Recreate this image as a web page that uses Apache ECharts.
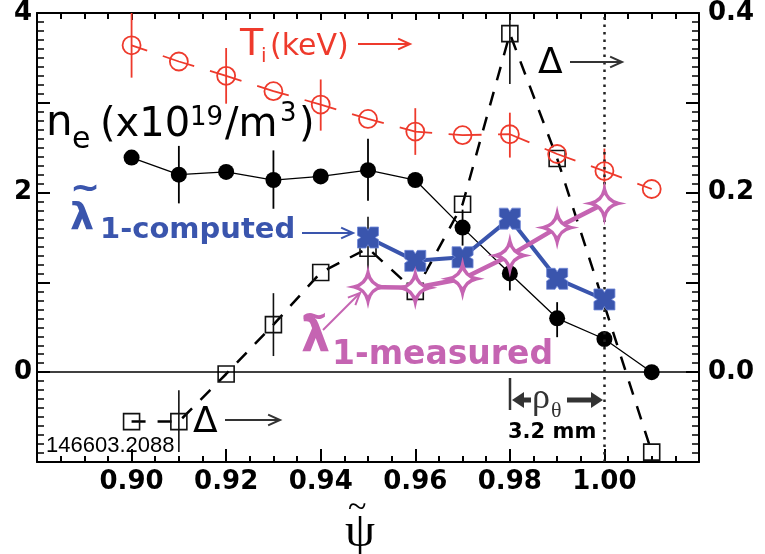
<!DOCTYPE html>
<html>
<head>
<meta charset="utf-8">
<script src="https://cdn.jsdelivr.net/npm/echarts@6/dist/echarts.min.js"></script>
<style>
  html, body { margin: 0; padding: 0; background: #fff; }
  #chart { width: 765px; height: 554px; }
</style>
</head>
<body>
<div id="chart"></div>
<script>
// psi values (x) and the profiles
var psi = [0.90, 0.91, 0.92, 0.93, 0.94, 0.95, 0.96, 0.97, 0.98, 0.99, 1.00, 1.01];
var tiVals = [3.64, 3.46, 3.30, 3.13, 2.98, 2.82, 2.68, 2.64, 2.65, 2.43, 2.24, 2.04];
var neVals = [2.39, 2.20, 2.23, 2.14, 2.18, 2.25, 2.14, 1.61, 1.10, 0.60, 0.37, 0.00];
var lamPsi = [0.95, 0.96, 0.97, 0.98, 0.99, 1.00];
var lamComputed = [1.50, 1.24, 1.28, 1.71, 1.04, 0.81];
var lamMeasured = [0.95, 0.94, 1.04, 1.30, 1.61, 1.88];
// delta is on the right axis
var deltaPsi = [0.90, 0.91, 0.92, 0.93, 0.94, 0.95, 0.96, 0.97, 0.98, 0.99, 1.01];
var deltaVals = [-0.055, -0.055, -0.002, 0.053, 0.111, 0.138, 0.090, 0.187, 0.377, 0.238, -0.089];
// error bars: [psi, low, high]
var tiErr = [[0.90, 3.28, 4.0], [0.92, 2.99, 3.61], [0.94, 2.69, 3.26], [0.96, 2.42, 2.94], [0.98, 2.39, 2.89], [1.00, 1.97, 2.49]];
var neErr = [[0.91, 1.88, 2.52], [0.93, 1.82, 2.47], [0.95, 1.91, 2.60], [0.97, 1.41, 1.81], [0.98, 0.91, 1.27], [0.99, 0.39, 0.78]];
var deltaErr = [[0.91, -0.089, -0.020], [0.93, 0.018, 0.088], [0.95, 0.102, 0.173], [0.98, 0.321, 0.40]];
var leftTicks = [0, 2, 4];
var rightTicks = [0.0, 0.2, 0.4];

var RED = '#ee3a2c', BLUE = '#3a55ad', MAG = '#c564b2', DARK = '#333';
var FONT = 'DejaVu Sans';

var myChart = echarts.init(document.getElementById('chart'), null, { renderer: 'canvas' });

function pairs(xs, ys) {
  return xs.map(function (x, i) { return [x, ys[i]]; });
}

function errSeries(data, color, yIdx, width) {
  return {
    type: 'custom',
    yAxisIndex: yIdx,
    data: data,
    encode: { x: 0, y: [1, 2] },
    z: 3,
    renderItem: function (params, api) {
      var a = api.coord([api.value(0), api.value(1)]);
      var b = api.coord([api.value(0), api.value(2)]);
      return {
        type: 'line',
        shape: { x1: a[0], y1: a[1], x2: b[0], y2: b[1] },
        style: { stroke: color, lineWidth: width }
      };
    }
  };
}

function txt(x, y, s, size, color, weight, family) {
  return {
    type: 'text', x: x, y: y, z: 100,
    style: {
      text: s, fontSize: size, fontFamily: family || FONT, fontWeight: weight || 'normal',
      fill: color || '#000', textAlign: 'left', textVerticalAlign: 'middle',
      align: 'left', verticalAlign: 'middle'
    }
  };
}

function arrow(x1, y1, x2, y2, color, w, h) {
  var a = Math.atan2(y2 - y1, x2 - x1), sp = 0.42;
  return [
    { type: 'line', z: 100, shape: { x1: x1, y1: y1, x2: x2, y2: y2 }, style: { stroke: color, lineWidth: w } },
    { type: 'polyline', z: 100, shape: { points: [
      [x2 - h * Math.cos(a - sp), y2 - h * Math.sin(a - sp)], [x2, y2],
      [x2 - h * Math.cos(a + sp), y2 - h * Math.sin(a + sp)]] },
      style: { stroke: color, lineWidth: w, fill: null } }
  ];
}

function solidArrow(x1, y, x2, color) {
  var dir = x2 > x1 ? 1 : -1;
  return [
    { type: 'line', z: 100, shape: { x1: x1, y1: y, x2: x2 - dir * 8, y2: y }, style: { stroke: color, lineWidth: 5 } },
    { type: 'polygon', z: 100, shape: { points: [[x2, y], [x2 - dir * 12, y - 8], [x2 - dir * 12, y + 8]] }, style: { fill: color } }
  ];
}

var graphics = [];
// T_i (keV) ->
graphics.push(txt(240, 45, 'T', 38, RED));
graphics.push(txt(261, 57, 'i', 20, RED));
graphics.push(txt(270, 47, '(keV)', 30, RED));
graphics = graphics.concat(arrow(358, 44, 410, 44, RED, 2, 13));
// n_e (x10^19/m^3)
graphics.push(txt(46, 124, 'n', 42, '#000'));
graphics.push(txt(72, 140, 'e', 30, '#000'));
graphics.push(txt(100, 126, '(x10', 40, '#000'));
graphics.push(txt(190, 118, '19', 26, '#000'));
graphics.push(txt(225, 126, '/m', 40, '#000'));
graphics.push(txt(280, 114, '3', 26, '#000'));
graphics.push(txt(299, 126, ')', 40, '#000'));
// lambda 1-computed
graphics.push(txt(70, 190, '~', 36, BLUE, 'bold'));
graphics.push(txt(70, 219, '\u03bb', 38, BLUE, 'bold'));
graphics.push(txt(100, 230, '1-computed', 29, BLUE, 'bold'));
graphics = graphics.concat(arrow(302, 233, 353, 233, BLUE, 2, 13));
// lambda 1-measured
graphics.push(txt(300, 318, '~', 34, MAG, 'bold'));
graphics.push(txt(301, 339, '\u03bb', 46, MAG, 'bold'));
graphics.push(txt(332, 355, '1-measured', 33, MAG, 'bold'));
graphics = graphics.concat(arrow(323, 330, 360, 293, MAG, 2, 13));
// Delta arrows
graphics.push(txt(538, 64, '\u0394', 36, '#000'));
graphics = graphics.concat(arrow(570, 62, 622, 62, DARK, 2, 13));
graphics.push(txt(193, 423, '\u0394', 36, '#000'));
graphics = graphics.concat(arrow(225, 420, 280, 420, DARK, 2, 13));
// shot number
graphics.push(txt(46, 446, '146603.2088', 22, '#000', 'normal', 'Liberation Sans'));
// rho_theta
graphics.push({ type: 'line', z: 100, shape: { x1: 510, y1: 378, x2: 510, y2: 410 }, style: { stroke: DARK, lineWidth: 2.5 } });
graphics = graphics.concat(solidArrow(531, 400, 512, DARK));
graphics = graphics.concat(solidArrow(567, 400, 603, DARK));
graphics.push(txt(532, 399, '\u03c1', 36, DARK, 'normal', 'Liberation Serif'));
graphics.push(txt(551, 411, '\u03b8', 22, DARK, 'normal', 'Liberation Serif'));
graphics.push(txt(508, 433, '3.2 mm', 21, '#000', 'bold'));
// x axis title psi with tilde
graphics.push(txt(348, 508, '~', 34, '#000', 'normal', 'Liberation Serif'));
graphics.push(txt(345, 533, '\u03c8', 48, '#000', 'normal', 'Liberation Serif'));

var tickLabelStyle = { fontSize: 26, fontWeight: 'bold', fontFamily: FONT, color: '#000' };

var option = {
  animation: false,
  backgroundColor: '#fff',
  grid: { left: 37, right: 66, top: 13, bottom: 92 },
  xAxis: [{
    type: 'value', min: 0.88, max: 1.02, interval: 0.02, position: 'bottom',
    axisLine: { onZero: false, lineStyle: { color: '#000', width: 2 } },
    axisTick: { inside: true, length: 13, lineStyle: { color: '#000', width: 2 } },
    minorTick: { show: true, splitNumber: 4, length: 6, lineStyle: { color: '#000', width: 2 } },
    splitLine: { show: false },
    axisLabel: Object.assign({ margin: 7, formatter: function (v) {
      return (v > 0.895 && v < 1.005) ? v.toFixed(2) : '';
    } }, tickLabelStyle)
  }, {
    type: 'value', min: 0.88, max: 1.02, interval: 0.02, position: 'top',
    axisLine: { onZero: false, lineStyle: { color: '#000', width: 2 } },
    axisTick: { inside: true, length: 7, lineStyle: { color: '#000', width: 2 } },
    minorTick: { show: true, splitNumber: 4, length: 6, lineStyle: { color: '#000', width: 2 } },
    splitLine: { show: false },
    axisLabel: { show: false }
  }],
  yAxis: [{
    type: 'value', min: -1, max: 4, interval: 1, position: 'left',
    axisLine: { show: true, onZero: false, lineStyle: { color: '#000', width: 2 } },
    axisTick: { show: true, inside: true, length: 13, lineStyle: { color: '#000', width: 2 } },
    minorTick: { show: true, splitNumber: 10, length: 7, lineStyle: { color: '#000', width: 1.5 } },
    splitLine: { show: false },
    axisLabel: Object.assign({ margin: 5, formatter: function (v) {
      return leftTicks.indexOf(v) >= 0 ? String(v) : '';
    } }, tickLabelStyle)
  }, {
    type: 'value', min: -0.1, max: 0.4, interval: 0.1, position: 'right',
    axisLine: { show: true, onZero: false, lineStyle: { color: '#000', width: 2 } },
    axisTick: { show: true, inside: true, length: 13, lineStyle: { color: '#000', width: 2 } },
    minorTick: { show: true, splitNumber: 10, length: 7, lineStyle: { color: '#000', width: 1.5 } },
    splitLine: { show: false },
    axisLabel: Object.assign({ margin: 9, formatter: function (v) {
      var r = Math.round(v * 10) / 10;
      return rightTicks.indexOf(r) >= 0 ? r.toFixed(1) : '';
    } }, tickLabelStyle)
  }],
  series: [
    {
      name: 'Delta', type: 'line', yAxisIndex: 1, data: pairs(deltaPsi, deltaVals), z: 2,
      symbol: 'rect', symbolSize: 16,
      itemStyle: { color: 'rgba(0,0,0,0)', borderColor: '#111', borderWidth: 1.6 },
      lineStyle: { color: '#000', width: 2.5, type: [14, 12] }
    },
    errSeries(deltaErr, '#111', 1, 1.6),
    {
      name: 'ne', type: 'line', data: pairs(psi, neVals), z: 4,
      symbol: 'circle', symbolSize: 16,
      itemStyle: { color: '#000' },
      lineStyle: { color: '#000', width: 1.3 },
      markLine: {
        silent: true, symbol: 'none', label: { show: false },
        data: [
          { yAxis: 0, lineStyle: { color: '#000', width: 1.5, type: 'solid' } },
          { xAxis: 1.0, lineStyle: { color: '#222', width: 2.5, type: [2.5, 5] } }
        ]
      }
    },
    errSeries(neErr, '#000', 0, 1.8),
    {
      name: 'Ti', type: 'line', data: pairs(psi, tiVals), z: 5,
      symbol: 'circle', symbolSize: 18,
      itemStyle: { color: 'rgba(0,0,0,0)', borderColor: RED, borderWidth: 1.8 },
      lineStyle: { color: RED, width: 1.8, type: [33, 16.5], dashOffset: 16.5 }
    },
    errSeries(tiErr, RED, 0, 1.8),
    {
      name: 'lambda computed', type: 'line', data: pairs(lamPsi, lamComputed), z: 6,
      symbol: 'path://M0,0 L4,0 L5,1.6 L6,0 L10,0 L10,4 L8.4,5 L10,6 L10,10 L6,10 L5,8.4 L4,10 L0,10 L0,6 L1.6,5 L0,4 Z',
      symbolSize: 21,
      itemStyle: { color: BLUE, borderColor: '#7088d8', borderWidth: 0.8 },
      lineStyle: { color: BLUE, width: 4 }
    },
    {
      name: 'lambda measured', type: 'line', data: pairs(lamPsi, lamMeasured), z: 7,
      symbol: 'path://M5,0 Q5.9,4.1 10,5 Q5.9,5.9 5,10 Q4.1,5.9 0,5 Q4.1,4.1 5,0 Z',
      symbolSize: 28,
      itemStyle: { color: '#fff', borderColor: MAG, borderWidth: 3.5 },
      lineStyle: { color: MAG, width: 4.5 }
    }
  ],
  graphic: graphics
};

myChart.setOption(option);
</script>
</body>
</html>
